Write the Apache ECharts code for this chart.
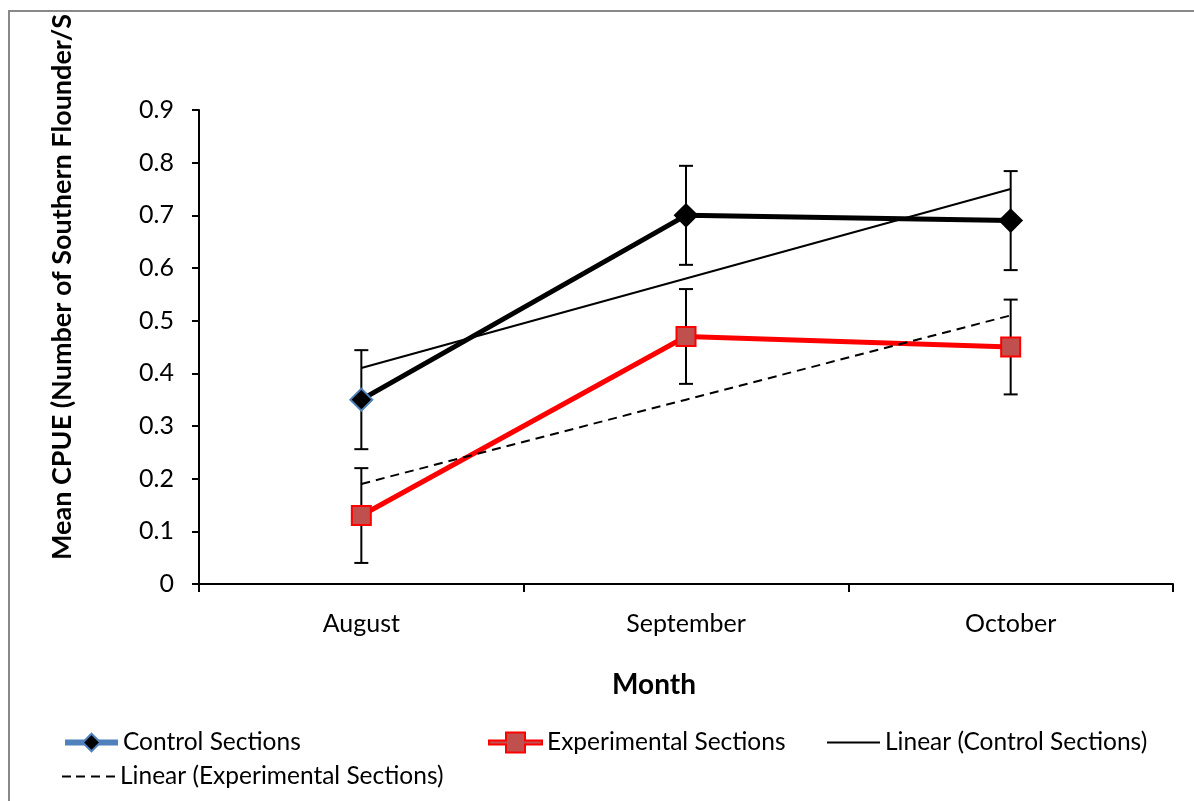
<!DOCTYPE html>
<html>
<head>
<meta charset="utf-8">
<script src="https://cdn.jsdelivr.net/npm/echarts@6/dist/echarts.min.js"></script>
<style>
  html, body { margin: 0; padding: 0; background: #fff; }
  #chart { width: 1194px; height: 801px; }
</style>
</head>
<body>
<div id="chart"></div>
<script>
// Monthly mean CPUE of southern flounder, control vs experimental sections
const months = ['August', 'September', 'October'];
const controlMean = [0.35, 0.70, 0.69];
const experimentalMean = [0.13, 0.47, 0.45];
const controlErr = [0.094, 0.094, 0.094];
const experimentalErr = [0.09, 0.09, 0.09];
const controlTrend = [0.41, 0.58, 0.75];
const experimentalTrend = [0.19, 0.35, 0.51];
const yTicks = [0, 0.1, 0.2, 0.3, 0.4, 0.5, 0.6, 0.7, 0.8, 0.9];

const FONT = 'Lato, "Open Sans", sans-serif';
const FS = 25;

const chart = echarts.init(document.getElementById('chart'), null, { renderer: 'canvas' });

// error bar with caps, drawn through the axes' coordinate system
function errorBarItem() {
  return function (params, api) {
    const i = api.value(0);
    const lo = api.coord([i, api.value(1)]);
    const hi = api.coord([i, api.value(2)]);
    const cap = 7;
    const style = { stroke: '#000', lineWidth: 2 };
    return {
      type: 'group',
      children: [
        { type: 'line', shape: { x1: lo[0], y1: lo[1], x2: hi[0], y2: hi[1] }, style },
        { type: 'line', shape: { x1: lo[0] - cap, y1: lo[1], x2: lo[0] + cap, y2: lo[1] }, style },
        { type: 'line', shape: { x1: hi[0] - cap, y1: hi[1], x2: hi[0] + cap, y2: hi[1] }, style }
      ]
    };
  };
}
const errData = (means, errs) => means.map((m, i) => [i, m - errs[i], m + errs[i]]);

const legendText = { fontFamily: FONT, fontSize: 24.5, color: '#000' };
function legendAt(left, top, item, icon) {
  const d = Object.assign({}, item);
  if (icon) d.icon = icon;
  return {
    left, top, padding: 0, orient: 'horizontal', itemWidth: 53, itemHeight: 22, itemGap: 0,
    selectedMode: false, textStyle: legendText, data: [d]
  };
}

const option = {
  backgroundColor: '#fff',
  animation: false,
  grid: { left: 199, right: 21, top: 110, bottom: 217, containLabel: false },
  xAxis: {
    type: 'category',
    data: months,
    boundaryGap: true,
    axisLine: { lineStyle: { color: '#000', width: 2 } },
    axisTick: { show: true, length: 8, lineStyle: { color: '#000', width: 2 } },
    axisLabel: { fontFamily: FONT, fontSize: FS, color: '#000', margin: 27 }
  },
  yAxis: {
    type: 'value',
    min: yTicks[0],
    max: yTicks[yTicks.length - 1],
    interval: 0.1,
    axisLine: { show: true, lineStyle: { color: '#000', width: 2 } },
    axisTick: { show: true, length: 7, lineStyle: { color: '#000', width: 2 } },
    axisLabel: { fontFamily: FONT, fontSize: FS, color: '#000', margin: 25 },
    splitLine: { show: false }
  },
  legend: [
    legendAt(62, 730, {
      name: 'Control Sections',
      lineStyle: { color: '#4F81BD', width: 6 },
      itemStyle: { color: '#000', borderColor: '#4F81BD', borderWidth: 2 }
    }),
    legendAt(488, 730, {
      name: 'Experimental Sections',
      lineStyle: { color: '#FF0000', width: 6 },
      itemStyle: { color: '#C0504D', borderColor: '#FF0000', borderWidth: 2 }
    }, 'path://M0,9H17V1H36V9H53V13H36V21H17V13H0Z'),
    legendAt(827, 730, { name: 'Linear (Control Sections)', itemStyle: { color: '#000' } },
      'path://M0,10H53V12H0Z'),
    legendAt(62, 764, { name: 'Linear (Experimental Sections)', itemStyle: { color: '#000' } },
      'path://M0,10H9V12H0ZM14,10H23V12H14ZM29,10H38V12H29ZM44,10H53V12H44Z')
  ],
  series: [
    {
      name: 'Control error',
      type: 'custom',
      renderItem: errorBarItem(),
      data: errData(controlMean, controlErr),
      encode: { x: 0, y: [1, 2] },
      z: 1,
      silent: true
    },
    {
      name: 'Experimental error',
      type: 'custom',
      renderItem: errorBarItem(),
      data: errData(experimentalMean, experimentalErr),
      encode: { x: 0, y: [1, 2] },
      z: 1,
      silent: true
    },
    {
      name: 'Control Sections',
      type: 'line',
      data: controlMean.map((v, i) => i === 0
        ? { value: v, itemStyle: { borderColor: '#4F81BD' } }
        : v),
      symbol: 'diamond',
      symbolSize: 22,
      showAllSymbol: true,
      lineStyle: { color: '#000', width: 5 },
      itemStyle: { color: '#000', borderColor: '#000', borderWidth: 2 },
      z: 3
    },
    {
      name: 'Experimental Sections',
      type: 'line',
      data: experimentalMean,
      symbol: 'rect',
      symbolSize: 19,
      showAllSymbol: true,
      lineStyle: { color: '#FF0000', width: 5 },
      itemStyle: { color: '#C0504D', borderColor: '#FF0000', borderWidth: 2 },
      z: 3
    },
    {
      name: 'Linear (Control Sections)',
      type: 'line',
      data: controlTrend,
      symbol: 'none',
      lineStyle: { color: '#000', width: 2 },
      itemStyle: { color: '#000' },
      z: 4
    },
    {
      name: 'Linear (Experimental Sections)',
      type: 'line',
      data: experimentalTrend,
      symbol: 'none',
      lineStyle: { color: '#000', width: 2, type: [9, 6] },
      itemStyle: { color: '#000' },
      z: 4
    }
  ],
  graphic: [
    // chart frame (left and top edges)
    { type: 'polyline', shape: { points: [[9, 801], [9, 11], [1194, 11]] },
      style: { stroke: '#888', lineWidth: 2, fill: null }, silent: true },
    {
      type: 'text',
      x: 62, y: 560,
      rotation: Math.PI / 2,
      style: {
        text: 'Mean CPUE (Number of Southern Flounder/S',
        fontFamily: FONT, fontSize: 27, fontWeight: 'bold', fill: '#000',
        align: 'left', verticalAlign: 'middle'
      }
    },
    {
      type: 'text',
      x: 654, y: 685,
      style: {
        text: 'Month',
        fontFamily: FONT, fontSize: 28, fontWeight: 'bold', fill: '#000',
        align: 'center', verticalAlign: 'middle'
      }
    }
  ]
};

chart.setOption(option);
</script>
</body>
</html>
